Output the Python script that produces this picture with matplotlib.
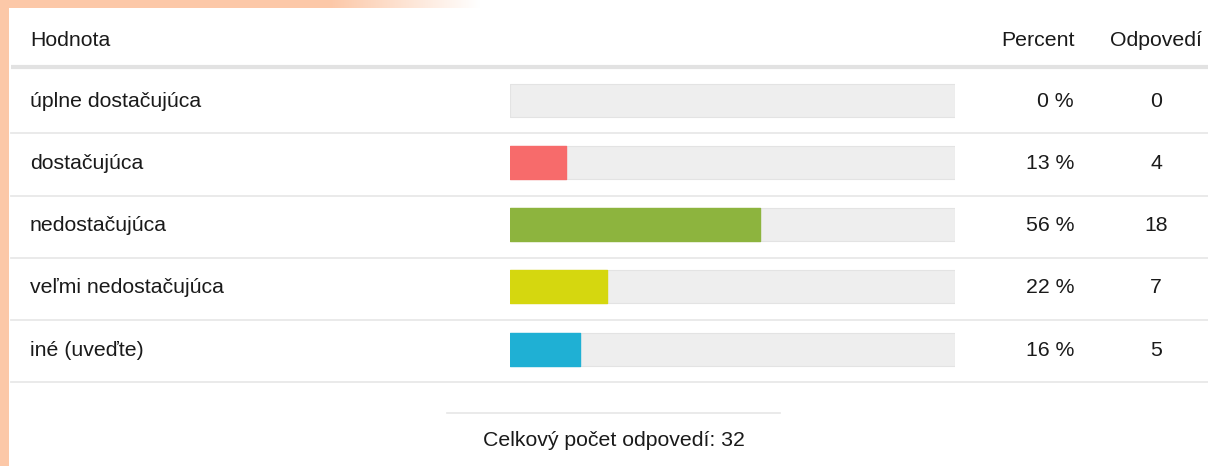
import numpy as np
import matplotlib
matplotlib.use("Agg")
import matplotlib.pyplot as plt
from matplotlib.patches import Rectangle

plt.rcParams['font.family'] = ['Liberation Sans', 'DejaVu Sans']

# --- data ---
categories = ["úplne dostačujúca", "dostačujúca", "nedostačujúca",
              "veľmi nedostačujúca", "iné (uveďte)"]
counts = [0, 4, 18, 7, 5]
percents = [0, 13, 56, 22, 16]
total = 32
bar_colors = ["#f76b6b", "#f76b6b", "#8db43e", "#d5d70f", "#1fb0d4"]
header = ["Hodnota", "Percent", "Odpovedí"]
footer_label = "Celkový počet odpovedí"

W, H = 1208, 466
fig = plt.figure(figsize=(W / 100, H / 100), dpi=100)
fig.patch.set_facecolor("white")

# background layer in pixel coordinates
bg = fig.add_axes([0, 0, 1, 1])
bg.set_xlim(0, W)
bg.set_ylim(H, 0)
bg.axis("off")

# peach frame: left strip and top strip fading to white
peach = np.array([252, 200, 168]) / 255.0
grad = np.linspace(0, 1, 600)
fade = np.clip(1 - (grad - 0.55) / 0.25, 0, 1)[None, :, None]
top_img = fade * peach + (1 - fade) * np.ones(3)
bg.imshow(top_img, extent=(0, 600, 8, 0), aspect="auto", zorder=0)
bg.add_patch(Rectangle((0, 0), 9, H, color=peach, lw=0, zorder=0))

fs = 15.3
text_color = "#1a1a1a"
# header
bg.text(30, 40, header[0], fontsize=fs, color=text_color, va="center", ha="left", zorder=3)
bg.text(1075, 40, header[1], fontsize=fs, color=text_color, va="center", ha="right", zorder=3)
bg.text(1156, 40, header[2], fontsize=fs, color=text_color, va="center", ha="center", zorder=3)
bg.plot([11, W], [67, 67], color="#e2e2e2", lw=3, solid_capstyle="butt", zorder=2)

# row layout
top_y, row_h = 69.0, 62.25
n = len(categories)
for i, (cat, p, c) in enumerate(zip(categories, percents, counts)):
    cy = top_y + row_h * (i + 0.5)
    bg.text(30, cy + 1, cat, fontsize=fs, color=text_color, va="center", ha="left", zorder=3)
    bg.text(1074, cy + 1, f"{p} %", fontsize=fs, color=text_color, va="center", ha="right", zorder=3)
    bg.text(1156, cy + 1, f"{c}", fontsize=fs, color=text_color, va="center", ha="center", zorder=3)
    sep = top_y + row_h * (i + 1) + 2
    bg.plot([11, W], [sep, sep], color="#e8e8e8", lw=1.3, zorder=2)

# footer
bg.plot([447, 780], [413, 413], color="#e6e6e6", lw=1.2, zorder=2)
bg.text(614, 441, f"{footer_label}: {total}", fontsize=fs, color=text_color,
        va="center", ha="center", zorder=3)

# bar area: x from 510 to 955 px, rows from top_y to top_y + n*row_h
x0, x1 = 510, 955
y_top = top_y
y_bot = top_y + n * row_h
ax = fig.add_axes([x0 / W, 1 - y_bot / H, (x1 - x0) / W, (y_bot - y_top) / H])
ax.patch.set_alpha(0)
ax.set_xlim(0, total)
ax.set_ylim(n - 0.5, -0.5)
ax.axis("off")
ypos = np.arange(n)
bh = 33 / row_h
ax.barh(ypos, [total] * n, height=bh, color="#eeeeee", edgecolor="#e3e3e3",
        linewidth=0.8, joinstyle="round", zorder=1)
bars = ax.barh(ypos, counts, height=bh, color=bar_colors, linewidth=0, zorder=2)
for b, c, col in zip(bars, counts, bar_colors):
    if c > 0:
        b.set_edgecolor(col)
        b.set_linewidth(1.0)
        b.set_joinstyle("round")

fig.savefig("out.png", dpi=100, facecolor="white")
